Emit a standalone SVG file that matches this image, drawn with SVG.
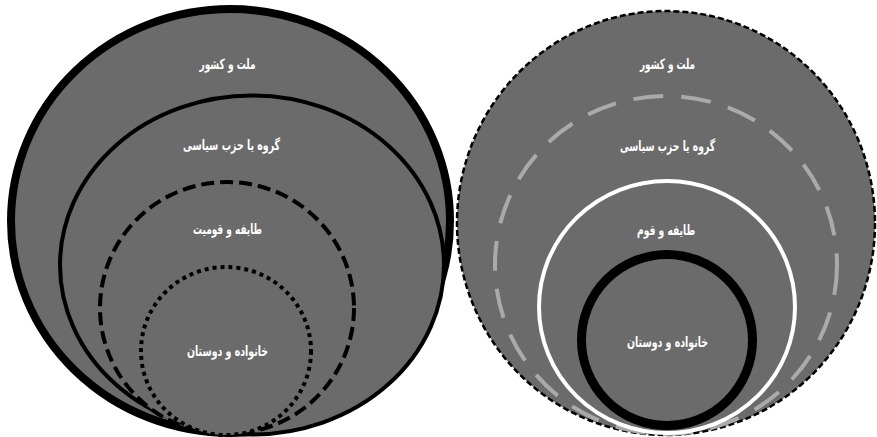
<svg xmlns="http://www.w3.org/2000/svg" width="877" height="437" viewBox="0 0 877 437">
<style>
.c{fill:#6b6b6b}
.t{font-family:"DejaVu Sans",sans-serif;font-weight:bold;font-size:14px;fill:#ffffff;text-anchor:middle;direction:rtl}
</style>
<rect width="877" height="437" fill="#ffffff"/>
<g id="left">
<g id="l1"><ellipse class="c" cx="230.5" cy="221" rx="219.5" ry="212" stroke="#000" stroke-width="8"/><text class="t" x="227.5" y="69" textLength="56" lengthAdjust="spacingAndGlyphs">ملت و کشور</text></g>
<g id="l2"><ellipse class="c" cx="252" cy="265" rx="192" ry="169.5" stroke="#000" stroke-width="4"/><text class="t" x="231.5" y="150" textLength="97" lengthAdjust="spacingAndGlyphs">گروه یا حزب سیاسی</text></g>
<g id="l3"><ellipse class="c" cx="227" cy="308" rx="127" ry="126" stroke="#000" stroke-width="4" stroke-dasharray="13 6"/><text class="t" x="227.5" y="234" textLength="69" lengthAdjust="spacingAndGlyphs">طایفه و قومیت</text></g>
<g id="l4"><ellipse class="c" cx="226" cy="351" rx="85" ry="84" stroke="#000" stroke-width="4" stroke-dasharray="4 4"/><text class="t" x="227.5" y="356" textLength="81" lengthAdjust="spacingAndGlyphs">خانواده و دوستان</text></g>
</g>
<g id="right">
<g id="r1"><ellipse class="c" cx="666" cy="223" rx="209" ry="212" stroke="#000" stroke-width="2.5" stroke-dasharray="6 3"/><text class="t" x="667.5" y="69" textLength="55" lengthAdjust="spacingAndGlyphs">ملت و کشور</text></g>
<g id="r2"><ellipse class="c" cx="666" cy="265" rx="171" ry="169" stroke="#aaaaaa" stroke-width="4" stroke-dasharray="30 18"/><text class="t" x="667.5" y="151" textLength="95" lengthAdjust="spacingAndGlyphs">گروه یا حزب سیاسی</text></g>
<g id="r3"><ellipse class="c" cx="667" cy="307" rx="128" ry="126" stroke="#ffffff" stroke-width="4"/><text class="t" x="666" y="235" textLength="58" lengthAdjust="spacingAndGlyphs">طایفه  و قوم</text></g>
<g id="r4"><circle class="c" cx="667" cy="340" r="85.5" stroke="#000" stroke-width="9"/><text class="t" x="667.5" y="347" textLength="81" lengthAdjust="spacingAndGlyphs">خانواده و دوستان</text></g>
</g>
<g id="connectors"/>
</svg>
